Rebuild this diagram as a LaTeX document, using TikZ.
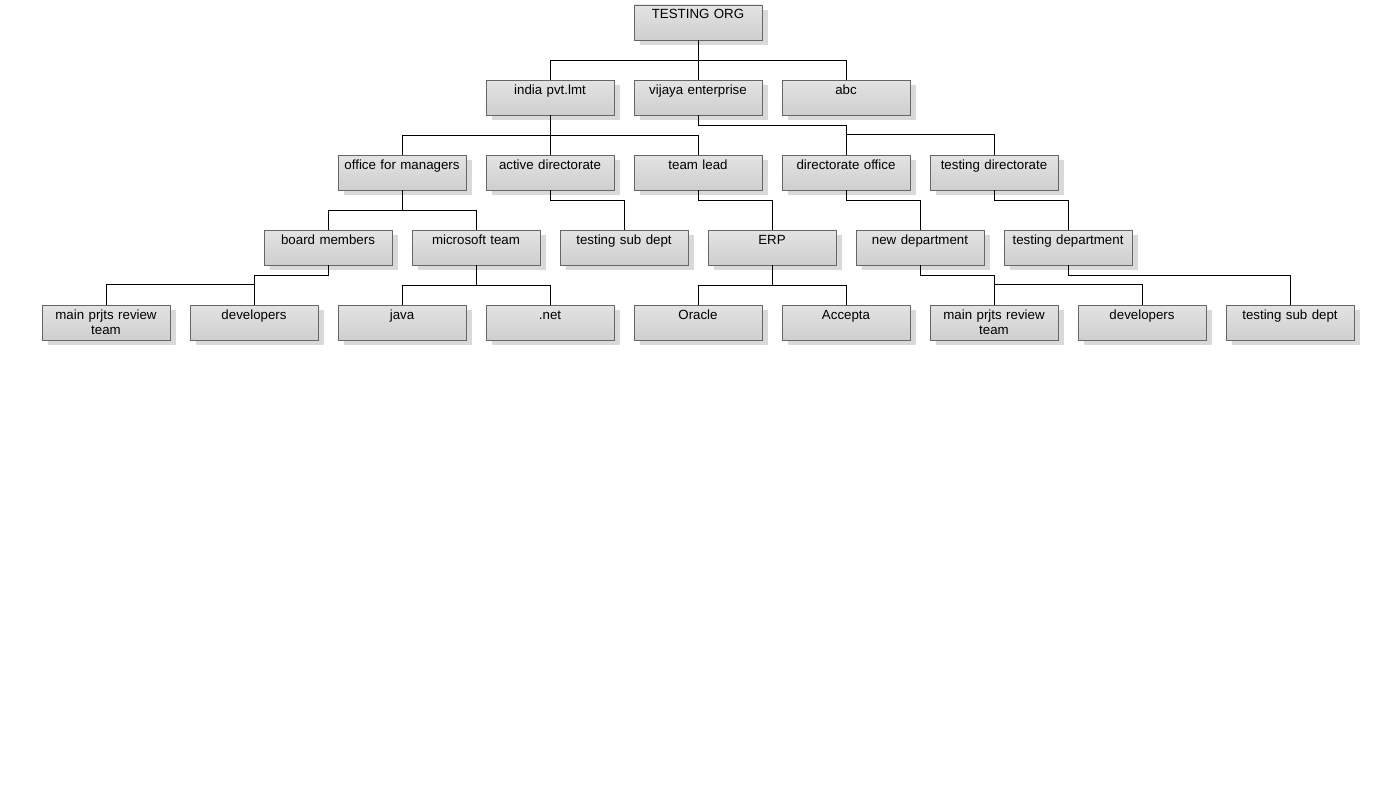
\documentclass[tikz,border=0pt]{standalone}
\usepackage{fontspec}
\setmainfont{Liberation Sans}
\usetikzlibrary{shadows}
\tikzset{
    orgbox/.style={rectangle, draw=black!60, line width=0.8pt,
        top color=black!11, middle color=white, bottom color=black!19,
        drop shadow={shadow xshift=6pt, shadow yshift=-5pt, fill=black!15, opacity=1},
        text width=124pt, align=center, inner xsep=2pt, inner ysep=0pt,
        text height=14pt, text depth=21pt,
        font=\fontsize{13.3}{15}\selectfont}
}
\tikzset{
    link/.style={line width=0.8pt, black}
}
\begin{document}
\begin{tikzpicture}[x=1pt, y=-1pt]
  \useasboundingbox (0,0) rectangle (1396,800);

  \node (org) [orgbox] at (698,22.5) {TESTING ORG};

  \node (india) [orgbox] at (550,97.5) {india pvt.lmt};
  \node (vijaya) [orgbox] at (698,97.5) {vijaya enterprise};
  \node (abc) [orgbox] at (846,97.5) {abc};

  \node (office) [orgbox] at (402,172.5) {office for managers};
  \node (active) [orgbox] at (550,172.5) {active directorate};
  \node (lead) [orgbox] at (698,172.5) {team lead};
  \node (diroff) [orgbox] at (846,172.5) {directorate office};
  \node (testdir) [orgbox] at (994,172.5) {testing directorate};

  \node (board) [orgbox] at (328,247.5) {board members};
  \node (ms) [orgbox] at (476,247.5) {microsoft team};
  \node (subdept) [orgbox] at (624,247.5) {testing sub dept};
  \node (erp) [orgbox] at (772,247.5) {ERP};
  \node (newdep) [orgbox] at (920,247.5) {new department};
  \node (testdep) [orgbox] at (1068,247.5) {testing department};

  \node (review) [orgbox] at (106,322.5) {main prjts review\\team};
  \node (dev) [orgbox] at (254,322.5) {developers};
  \node (java) [orgbox] at (402,322.5) {java};
  \node (net) [orgbox] at (550,322.5) {.net};
  \node (oracle) [orgbox] at (698,322.5) {Oracle};
  \node (accepta) [orgbox] at (846,322.5) {Accepta};
  \node (reviewb) [orgbox] at (994,322.5) {main prjts review\\team};
  \node (devb) [orgbox] at (1142,322.5) {developers};
  \node (subdeptb) [orgbox] at (1290,322.5) {testing sub dept};

  \draw [link] (org.south) -- ++(0,20) -| (india.north);
  \draw [link] (org.south) -- (vijaya.north);
  \draw [link] (org.south) -- ++(0,20) -| (abc.north);

  \draw [link] (india.south) -- ++(0,20) -| (office.north);
  \draw [link] (india.south) -- (active.north);
  \draw [link] (india.south) -- ++(0,20) -| (lead.north);

  \draw [link] (vijaya.south) -- ++(0,10) -| (diroff.north);
  \draw [link] (diroff.north) -- ++(0,-20) -| (testdir.north);

  \draw [link] (office.south) -- ++(0,20) -| (board.north);
  \draw [link] (office.south) -- ++(0,20) -| (ms.north);
  \draw [link] (active.south) -- ++(0,10) -| (subdept.north);
  \draw [link] (lead.south) -- ++(0,10) -| (erp.north);
  \draw [link] (diroff.south) -- ++(0,10) -| (newdep.north);
  \draw [link] (testdir.south) -- ++(0,10) -| (testdep.north);

  \draw [link] (board.south) -- ++(0,10) -| (dev.north);
  \draw [link] (dev.north) -- ++(0,-20) -| (review.north);
  \draw [link] (ms.south) -- ++(0,20) -| (java.north);
  \draw [link] (ms.south) -- ++(0,20) -| (net.north);
  \draw [link] (erp.south) -- ++(0,20) -| (oracle.north);
  \draw [link] (erp.south) -- ++(0,20) -| (accepta.north);
  \draw [link] (newdep.south) -- ++(0,10) -| (reviewb.north);
  \draw [link] (reviewb.north) -- ++(0,-20) -| (devb.north);
  \draw [link] (testdep.south) -- ++(0,10) -| (subdeptb.north);
\end{tikzpicture}
\end{document}
